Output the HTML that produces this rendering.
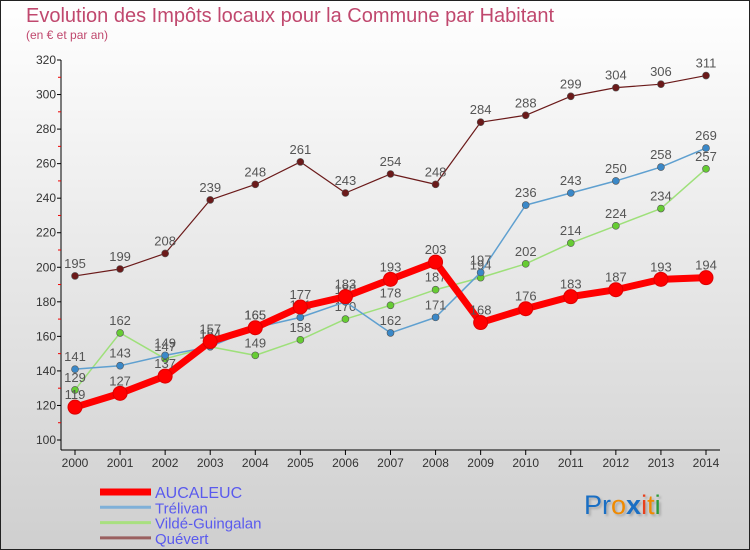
<!DOCTYPE html>
<html><head><meta charset="utf-8"><style>
html,body{margin:0;padding:0;}
svg{display:block;font-family:"Liberation Sans",sans-serif;}
</style></head><body>
<svg id="chart" width="750" height="550" viewBox="0 0 750 550">
<defs><linearGradient id="bg" x1="0" y1="0" x2="0" y2="1"><stop offset="0" stop-color="#ffffff"/><stop offset="1" stop-color="#cfcfcf"/></linearGradient></defs>
<rect x="0.5" y="0.5" width="749" height="549" fill="url(#bg)" stroke="#222"/>
<text x="26" y="22" font-size="20" fill="#c0486e">Evolution des Impôts locaux pour la Commune par Habitant</text>
<text x="26" y="39" font-size="12" fill="#c0486e">(en € et par an)</text>
<g id="axes"></g>
<g id="series"></g>
<g id="legend"></g>
<text x="584" y="514" font-size="27" style="text-shadow:2px 2px 2px #aaa"><tspan fill="#1a6fc4">Pr</tspan><tspan fill="#f08a00">o</tspan><tspan fill="#1a6fc4" font-weight="bold">x</tspan><tspan fill="#e8401c">i</tspan><tspan fill="#f08a00">t</tspan><tspan fill="#2a9a3a">i</tspan></text>
</svg>
<script>
const years=[2000,2001,2002,2003,2004,2005,2006,2007,2008,2009,2010,2011,2012,2013,2014];
const aucaleuc=[119,127,137,157,165,177,183,193,203,168,176,183,187,193,194];
const trelivan=[141,143,149,154,165,171,180,162,171,197,236,243,250,258,269];
const vilde=[129,162,147,154,149,158,170,178,187,194,202,214,224,234,257];
const quevert=[195,199,208,239,248,261,243,254,248,284,288,299,304,306,311];
const yTicks=[100,120,140,160,180,200,220,240,260,280,300,320];
const seriesNames=["AUCALEUC","Trélivan","Vildé-Guingalan","Quévert"];

const NS="http://www.w3.org/2000/svg";
const x=i=>75+i*(706-75)/(years.length-1);
const y=v=>440-(v-100)*(380/220);
function mk(tag,attrs,parent){const e=document.createElementNS(NS,tag);for(const k in attrs)e.setAttribute(k,attrs[k]);parent.appendChild(e);return e;}
const axes=document.getElementById('axes');
const yAxis=mk('line',{x1:61,y1:60,x2:61,y2:450,stroke:'#000'},axes);


const xAxis=mk('line',{x1:61,y1:450,x2:720,y2:450,stroke:'#000'},axes);


yTicks.forEach(t=>{
  mk('line',{x1:57,y1:y(t),x2:61,y2:y(t),stroke:'#000'},axes);
  if(t<320) mk('line',{x1:58,y1:y(t+10),x2:61,y2:y(t+10),stroke:'#e00'},axes);
  const tx=mk('text',{x:56,y:y(t)+4,'font-size':12,'text-anchor':'end',fill:'#333'},axes);
  tx.textContent=t;
  
  
});
years.forEach((yr,i)=>{
  mk('line',{x1:x(i),y1:450,x2:x(i),y2:455,stroke:'#000'},axes);
  const tx=mk('text',{x:x(i),y:467,'font-size':12,'text-anchor':'middle',fill:'#333'},axes);
  tx.textContent=yr;
  
  
});
const sg=document.getElementById('series');
const defs=[
 {d:quevert,c:'#6b1a1a',w:1.2,r:3.5,fill:'#6b1a1a',n:'quevert'},
 {d:vilde,c:'#9ee07a',w:1.5,r:3.5,fill:'#66cc33',n:'vilde-guingalan'},
 {d:trelivan,c:'#5fa0d0',w:1.5,r:3.5,fill:'#3a88c8',n:'trelivan'},
 {d:aucaleuc,c:'#f00',w:7,r:7,fill:'#f00',n:'aucaleuc'}];
defs.forEach(s=>{
  const g=mk('g',{},sg);
  
  
  const ln=mk('polyline',{points:s.d.map((v,i)=>x(i)+','+y(v)).join(' '),fill:'none',stroke:s.c,'stroke-width':s.w,'stroke-linejoin':'round'},g);
  
  
  s.d.forEach((v,i)=>{
    const p=mk('circle',{cx:x(i),cy:y(v),r:s.r,fill:s.fill,stroke:s.n==='aucaleuc'?'#d00':'#555','stroke-width':s.n==='aucaleuc'?1:0.6},g);
    
    
    const t=mk('text',{x:x(i),y:y(v)-8,'font-size':13,'text-anchor':'middle',fill:'#555'},g);
    t.textContent=v;
    
    
  });
});
const lg=document.getElementById('legend');
const lc=['#f00','#7fb0d8','#a8e080','#9a6060'],lw=[7,3,3,3];
seriesNames.forEach((nm,i)=>{
  const yy=492+i*15.3;
  const e=mk('g',{},lg);
  
  
  mk('line',{x1:100,y1:yy,x2:151,y2:yy,stroke:lc[i],'stroke-width':lw[i]},e);
  const t=mk('text',{x:155,y:yy+6,'font-size':i===0?16:15,fill:'#5a5aee'},e);
  t.textContent=nm;
});
</script>
</body></html>
